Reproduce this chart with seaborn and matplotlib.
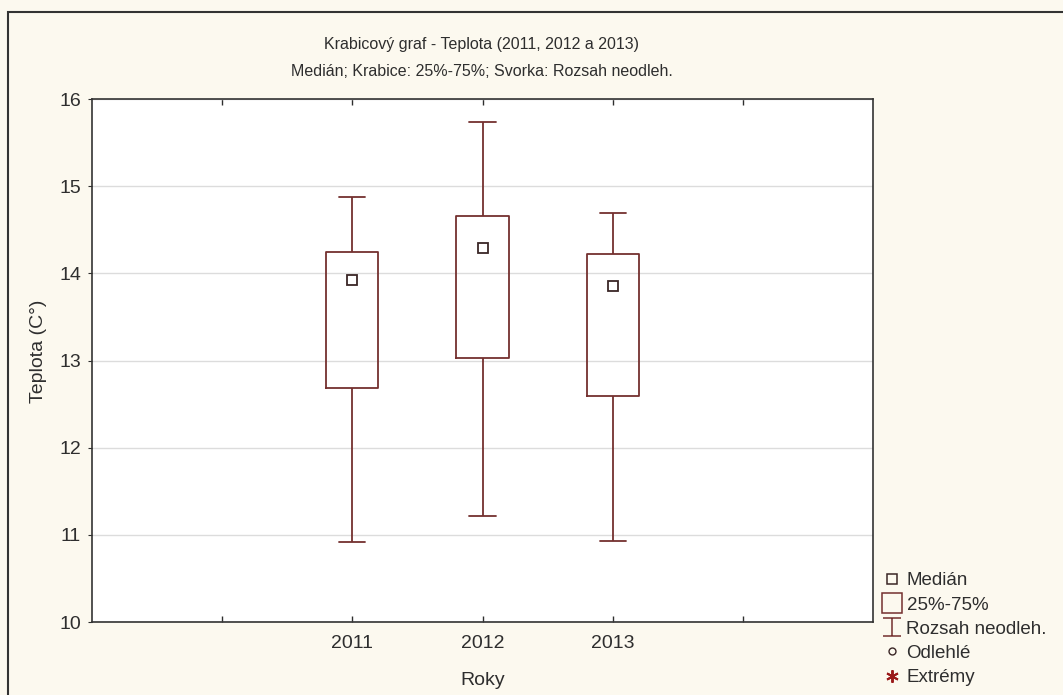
import numpy as np
import pandas as pd
import seaborn as sns
import matplotlib
matplotlib.use("Agg")
import matplotlib.pyplot as plt
from matplotlib.lines import Line2D
from matplotlib.path import Path
from matplotlib.patches import Rectangle

# Five-number summaries of yearly temperature (°C)
years = ["2011", "2012", "2013"]
whisker_low = [10.92, 11.22, 10.93]
quartile_1 = [12.68, 13.03, 12.59]
medians = [13.92, 14.29, 13.85]
quartile_3 = [14.24, 14.66, 14.22]
whisker_high = [14.87, 15.74, 14.69]

y_ticks = [10, 11, 12, 13, 14, 15, 16]

# Five values per year reproduce the summary exactly (linear percentiles)
rows = []
for i, yr in enumerate(years):
    for v in (whisker_low[i], quartile_1[i], medians[i], quartile_3[i], whisker_high[i]):
        rows.append({"Roky": yr, "Teplota": v})
df = pd.DataFrame(rows)

BOX_COLOR = "#74302f"
MED_COLOR = "#3a2626"
TEXT_COLOR = "#2e2e2e"
FIG_BG = "#fcf9ef"

sns.set_theme(style="white")
plt.rcParams["font.family"] = ["Liberation Sans", "DejaVu Sans"]
plt.rcParams["text.color"] = TEXT_COLOR
plt.rcParams["axes.labelcolor"] = TEXT_COLOR
plt.rcParams["xtick.color"] = TEXT_COLOR
plt.rcParams["ytick.color"] = TEXT_COLOR

fig = plt.figure(figsize=(10.63, 6.95), dpi=100, facecolor=FIG_BG)
ax = fig.add_axes([92 / 1063, 73 / 695, 781 / 1063, 523 / 695])
ax.set_facecolor("white")

sns.boxplot(
    data=df, x="Roky", y="Teplota", order=years, ax=ax,
    whis=(0, 100), width=0.4, fill=False, color=BOX_COLOR,
    linewidth=1.3, showfliers=False,
    medianprops={"visible": False},
)
# Median shown as a small hollow square
sns.pointplot(
    data=df, x="Roky", y="Teplota", order=years, ax=ax,
    estimator="median", errorbar=None, linestyle="none",
    marker="s", markersize=7, markerfacecolor="white",
    markeredgecolor=MED_COLOR, markeredgewidth=1.3, color=MED_COLOR,
)

ax.set_xlim(-2, 4)
ax.set_ylim(y_ticks[0], y_ticks[-1])
ax.set_yticks(y_ticks)
ax.set_yticklabels([str(t) for t in y_ticks], fontsize=14)
ax.set_xticks([-1, 0, 1, 2, 3])
ax.set_xticklabels([""] + years + [""], fontsize=14)
ax.tick_params(axis="x", direction="in", length=4, width=1, top=True, bottom=True, pad=9)
ax.tick_params(axis="y", direction="out", length=3, width=0.8, left=True, pad=5)
ax.yaxis.grid(True, color="#dcdcdc", linewidth=1)
ax.xaxis.grid(False)
ax.set_axisbelow(True)
for s in ax.spines.values():
    s.set_visible(True)
    s.set_color("#333333")
    s.set_linewidth(1.2)

ax.set_xlabel("Roky", fontsize=14, labelpad=15)
ax.set_ylabel("Teplota (C°)", fontsize=14)
ax.yaxis.set_label_coords(-0.057, 0.518)

title_kw = {"fontsize": 11.5}
fig.text(482 / 1063, 1 - 45 / 695, "Krabicový graf - Teplota (2011, 2012 a 2013)",
         ha="center", va="center", **title_kw)
fig.text(482 / 1063, 1 - 72 / 695, "Medián; Krabice: 25%-75%; Svorka: Rozsah neodleh.",
         ha="center", va="center", **title_kw)

# Legend symbols
ibar = Path(
    [(-1, -1), (1, -1), (0, -1), (0, 1), (-1, 1), (1, 1)],
    [Path.MOVETO, Path.LINETO, Path.MOVETO, Path.LINETO, Path.MOVETO, Path.LINETO],
)
handles = [
    Line2D([], [], linestyle="none", marker="s", markersize=7, markerfacecolor="none",
           markeredgecolor=MED_COLOR, markeredgewidth=1.1),
    Line2D([], [], linestyle="none", marker="s", markersize=14, markerfacecolor="none",
           markeredgecolor=BOX_COLOR, markeredgewidth=1.1),
    Line2D([], [], linestyle="none", marker=ibar, markersize=13, markerfacecolor="none",
           markeredgecolor=BOX_COLOR, markeredgewidth=1.1),
    Line2D([], [], linestyle="none", marker="o", markersize=5, markerfacecolor="none",
           markeredgecolor=MED_COLOR, markeredgewidth=1.0),
    Line2D([], [], linestyle="none", marker=(6, 2, 0), markersize=9,
           markeredgecolor="#9a1a1a", markeredgewidth=1.4),
]
labels = ["Medián", "25%-75%", "Rozsah neodleh.", "Odlehlé", "Extrémy"]
fig.legend(handles, labels, loc="upper left",
           bbox_to_anchor=(869 / 1063, 1 - 559 / 695), frameon=False,
           fontsize=13.5, handlelength=1.0, handletextpad=0.3,
           labelspacing=0.38, borderpad=0.2)

# Outer frame around the chart
fig.patches.append(Rectangle((8 / 1063, -0.1), 1.2, (695 - 12) / 695 + 0.1,
                             transform=fig.transFigure, fill=False,
                             edgecolor="#333333", linewidth=1.5))

fig.savefig("out.png", dpi=100, facecolor=FIG_BG)
